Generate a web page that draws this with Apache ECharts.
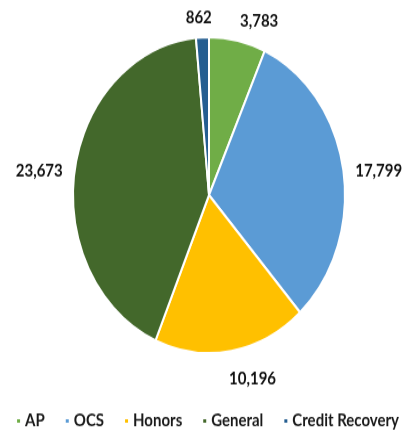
<!DOCTYPE html>
<html>
<head>
<meta charset="utf-8">
<script src="https://cdn.jsdelivr.net/npm/echarts@6/dist/echarts.min.js"></script>
<style>
html,body{margin:0;padding:0;background:#fff;overflow:hidden;}
#wrap{width:415px;height:432px;overflow:hidden;}
#c{width:415px;height:372px;transform:scaleY(1.1613);transform-origin:0 0;}
</style>
</head>
<body>
<div id="wrap"><div id="c"></div></div>
<script>
const categories = ['AP', 'OCS', 'Honors', 'General', 'Credit Recovery'];
const values = [3783, 17799, 10196, 23673, 862];
const colors = ['#70AD47', '#5B9BD5', '#FFC000', '#43682B', '#255E91'];

const CX = 209, CY = 168, R = 136, GAP = 8, PAD = 4;
const total = values.reduce((a, b) => a + b, 0);
const midAngles = [];
let acc = 0;
values.forEach(v => { midAngles.push((acc + v / 2) / total * 2 * Math.PI); acc += v; });
const clamp = v => Math.max(-1, Math.min(1, v));

const chart = echarts.init(document.getElementById('c'), null, {renderer: 'canvas'});
chart.setOption({
  animation: false,
  color: colors,
  legend: {
    bottom: -3,
    right: 11,
    itemWidth: 5,
    itemHeight: 5,
    itemGap: 19,
    icon: 'rect',
    textStyle: {fontFamily: 'Lato', fontWeight: 'bold', fontSize: 15, color: '#1a1a1a', padding: [0, 0, 0, -1]},
    data: categories
  },
  series: [{
    type: 'pie',
    center: [CX, CY],
    radius: R,
    startAngle: 90,
    clockwise: true,
    itemStyle: {borderColor: '#fff', borderWidth: 2},
    label: {
      show: true,
      position: 'outside',
      fontFamily: 'Lato',
      fontWeight: 'bold',
      fontSize: 15,
      color: '#111',
      formatter: p => p.value.toLocaleString('en-US')
    },
    labelLine: {show: false, length: 8, length2: 0},
    labelLayout: function (p) {
      const a = midAngles[p.dataIndex];
      const ux = Math.sin(a), uy = -Math.cos(a);
      const w = p.labelRect.width, h = p.labelRect.height;
      return {
        x: CX + ux * (R + GAP + PAD) + clamp(ux * 5) * w / 2,
        y: CY + uy * (R + GAP + 5) + uy * h / 2 + 3.5,
        align: 'center',
        verticalAlign: 'middle'
      };
    },
    data: categories.map((n, i) => ({name: n, value: values[i]}))
  }]
});
</script>
</body>
</html>
